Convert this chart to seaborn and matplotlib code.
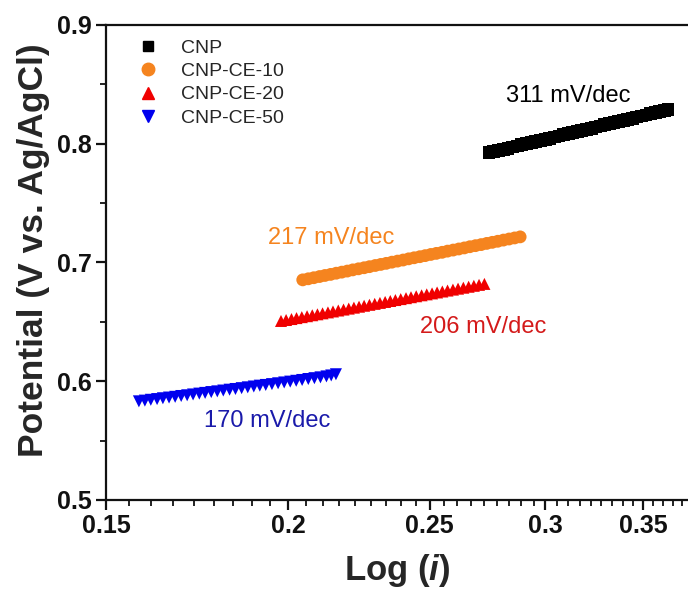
import numpy as np
import pandas as pd
import matplotlib
matplotlib.use("Agg")
import matplotlib.pyplot as plt
from matplotlib.ticker import FixedLocator, FixedFormatter, NullFormatter
from matplotlib.lines import Line2D
import seaborn as sns

# ---------------- data ----------------
cnp_x = [0.2745, 0.2766, 0.2786, 0.2807, 0.2828, 0.2849, 0.2870, 0.2891, 0.2912, 0.2934,
         0.2955, 0.2977, 0.2999, 0.3021, 0.3043, 0.3065, 0.3087, 0.3110, 0.3133, 0.3155,
         0.3178, 0.3201, 0.3225, 0.3248, 0.3272, 0.3295, 0.3319, 0.3343, 0.3367, 0.3392,
         0.3416, 0.3441, 0.3466, 0.3491, 0.3516, 0.3541, 0.3567, 0.3592, 0.3618, 0.3640]
cnp_y = [0.7925, 0.7934, 0.7944, 0.7953, 0.7962, 0.7972, 0.7981, 0.7990, 0.8000, 0.8009,
         0.8018, 0.8028, 0.8037, 0.8046, 0.8056, 0.8065, 0.8074, 0.8084, 0.8093, 0.8102,
         0.8112, 0.8121, 0.8130, 0.8140, 0.8149, 0.8158, 0.8168, 0.8177, 0.8186, 0.8196,
         0.8205, 0.8214, 0.8224, 0.8233, 0.8242, 0.8252, 0.8261, 0.8270, 0.8280, 0.8290]

ce10_x = [0.2046, 0.2064, 0.2082, 0.2101, 0.2119, 0.2138, 0.2157, 0.2176, 0.2195, 0.2214,
          0.2234, 0.2254, 0.2273, 0.2294, 0.2314, 0.2334, 0.2355, 0.2376, 0.2397, 0.2418,
          0.2439, 0.2461, 0.2482, 0.2504, 0.2526, 0.2549, 0.2571, 0.2594, 0.2617, 0.2640,
          0.2663, 0.2687, 0.2711, 0.2735, 0.2759, 0.2783, 0.2808, 0.2833, 0.2858, 0.2883]
ce10_y = [0.6853, 0.6862, 0.6871, 0.6881, 0.6890, 0.6899, 0.6909, 0.6918, 0.6927, 0.6937,
          0.6946, 0.6955, 0.6964, 0.6974, 0.6983, 0.6992, 0.7002, 0.7011, 0.7020, 0.7030,
          0.7039, 0.7048, 0.7057, 0.7067, 0.7076, 0.7085, 0.7095, 0.7104, 0.7113, 0.7122,
          0.7132, 0.7141, 0.7150, 0.7160, 0.7169, 0.7178, 0.7188, 0.7197, 0.7206, 0.7215]

ce20_x = [0.1977, 0.1993, 0.2010, 0.2026, 0.2043, 0.2060, 0.2077, 0.2094, 0.2111, 0.2129,
          0.2146, 0.2164, 0.2182, 0.2200, 0.2218, 0.2236, 0.2254, 0.2273, 0.2292, 0.2311,
          0.2330, 0.2349, 0.2368, 0.2388, 0.2408, 0.2427, 0.2447, 0.2468, 0.2488, 0.2509,
          0.2529, 0.2550, 0.2571, 0.2593, 0.2614, 0.2636, 0.2658, 0.2680, 0.2702, 0.2725]
ce20_y = [0.6507, 0.6515, 0.6523, 0.6531, 0.6539, 0.6547, 0.6555, 0.6563, 0.6571, 0.6579,
          0.6587, 0.6595, 0.6603, 0.6611, 0.6619, 0.6627, 0.6635, 0.6643, 0.6651, 0.6659,
          0.6667, 0.6675, 0.6683, 0.6691, 0.6699, 0.6707, 0.6715, 0.6723, 0.6731, 0.6739,
          0.6747, 0.6755, 0.6763, 0.6771, 0.6779, 0.6787, 0.6795, 0.6803, 0.6811, 0.6819]

ce50_x = [0.1580, 0.1595, 0.1610, 0.1626, 0.1641, 0.1657, 0.1673, 0.1689, 0.1705, 0.1721,
          0.1738, 0.1754, 0.1771, 0.1788, 0.1805, 0.1823, 0.1840, 0.1858, 0.1876, 0.1894,
          0.1912, 0.1930, 0.1949, 0.1968, 0.1987, 0.2006, 0.2025, 0.2044, 0.2064, 0.2084,
          0.2104, 0.2124, 0.2140, 0.2156]
ce50_y = [0.5830, 0.5836, 0.5843, 0.5849, 0.5856, 0.5862, 0.5868, 0.5875, 0.5881, 0.5888,
          0.5895, 0.5901, 0.5908, 0.5914, 0.5921, 0.5928, 0.5934, 0.5941, 0.5948, 0.5955,
          0.5962, 0.5968, 0.5975, 0.5982, 0.5989, 0.5996, 0.6003, 0.6010, 0.6018, 0.6025,
          0.6032, 0.6040, 0.6048, 0.6058]

series_names = ["CNP", "CNP-CE-10", "CNP-CE-20", "CNP-CE-50"]
series_colors = ["#000000", "#f5841f", "#f00000", "#0000ee"]
series_markers = ["s", "o", "^", "v"]
slope_labels = ["311 mV/dec", "217 mV/dec", "206 mV/dec", "170 mV/dec"]
label_colors = ["#000000", "#f5841f", "#d41a1a", "#1a1aaa"]

x_ticks = [0.15, 0.2, 0.25, 0.3, 0.35]
x_tick_labels = ["0.15", "0.2", "0.25", "0.3", "0.35"]
y_ticks = [0.5, 0.6, 0.7, 0.8, 0.9]
y_tick_labels = ["0.5", "0.6", "0.7", "0.8", "0.9"]

# ---------------- build table ----------------
xs = [cnp_x, ce10_x, ce20_x, ce50_x]
ys = [cnp_y, ce10_y, ce20_y, ce50_y]
df = pd.concat([pd.DataFrame({"x": x, "y": y, "sample": n})
                for x, y, n in zip(xs, ys, series_names)], ignore_index=True)

# ---------------- style ----------------
sns.set_theme(style="ticks")
plt.rcParams["font.family"] = ["Liberation Sans", "DejaVu Sans"]
plt.rcParams["mathtext.fontset"] = "custom"
plt.rcParams["mathtext.it"] = "Liberation Sans:italic:bold"
plt.rcParams["mathtext.rm"] = "Liberation Sans:bold"

fig = plt.figure(figsize=(6.88, 5.93), dpi=100)
ax = fig.add_axes([0.154, 0.157, 0.846, 0.801])

sizes = {"CNP": 85, "CNP-CE-10": 85, "CNP-CE-20": 75, "CNP-CE-50": 75}
sns.scatterplot(data=df, x="x", y="y", hue="sample", style="sample",
                hue_order=series_names, style_order=series_names,
                palette=dict(zip(series_names, series_colors)),
                markers=dict(zip(series_names, series_markers)),
                size="sample", sizes=sizes, size_order=series_names,
                linewidth=0, edgecolor="none", ax=ax, legend=False, zorder=3)

ax.set_xscale("log")
ax.set_xlim(0.15, 0.3757)
ax.set_ylim(0.5, 0.9)

ax.xaxis.set_major_locator(FixedLocator(x_ticks))
ax.xaxis.set_major_formatter(FixedFormatter(x_tick_labels))
minor = []
for a in [0.15, 0.2, 0.25, 0.3, 0.35]:
    for k in range(1, 9):
        minor.append(a + k * 0.05 / 9)
ax.xaxis.set_minor_locator(FixedLocator(minor))
ax.xaxis.set_minor_formatter(NullFormatter())

ax.yaxis.set_major_locator(FixedLocator(y_ticks))
ax.yaxis.set_major_formatter(FixedFormatter(y_tick_labels))
ax.yaxis.set_minor_locator(FixedLocator([0.55, 0.65, 0.75, 0.85]))

for sp in ["left", "bottom", "top"]:
    ax.spines[sp].set_linewidth(1.6)
    ax.spines[sp].set_color("#111111")
ax.spines["right"].set_visible(False)

ax.tick_params(which="major", direction="out", length=7, width=1.6, labelsize=18,
               colors="#111111", pad=3)
ax.tick_params(which="minor", direction="out", length=4, width=1.3, colors="#111111")
ax.tick_params(top=False, right=False, which="both")
for lab in ax.get_xticklabels() + ax.get_yticklabels():
    lab.set_fontweight("bold")

ax.set_xlabel(r"Log ($i$)", fontsize=25, fontweight="bold", labelpad=10)
ax.set_ylabel("Potential (V vs. Ag/AgCl)", fontsize=25.5, fontweight="bold")
ax.yaxis.set_label_coords(-0.096, 0.525)

# legend
handles = [Line2D([], [], linestyle="none", marker=m, color=c, markersize=ms)
           for m, c, ms in zip(series_markers, series_colors, [7, 9, 9, 9])]
ax.legend(handles, series_names, loc="upper left", bbox_to_anchor=(0.035, 0.995),
          frameon=False, fontsize=14, handlelength=1.0, handletextpad=1.2,
          labelspacing=0.3, borderaxespad=0.2)

# slope annotations
ann_pos = [(0.3111, 0.8402), (0.2140, 0.7206), (0.2718, 0.6457), (0.1935, 0.5665)]
for (tx, ty), txt, col in zip(ann_pos, slope_labels, label_colors):
    ax.text(tx, ty, txt, color=col, fontsize=17, ha="center", va="center")

fig.savefig("out.png", dpi=100)
